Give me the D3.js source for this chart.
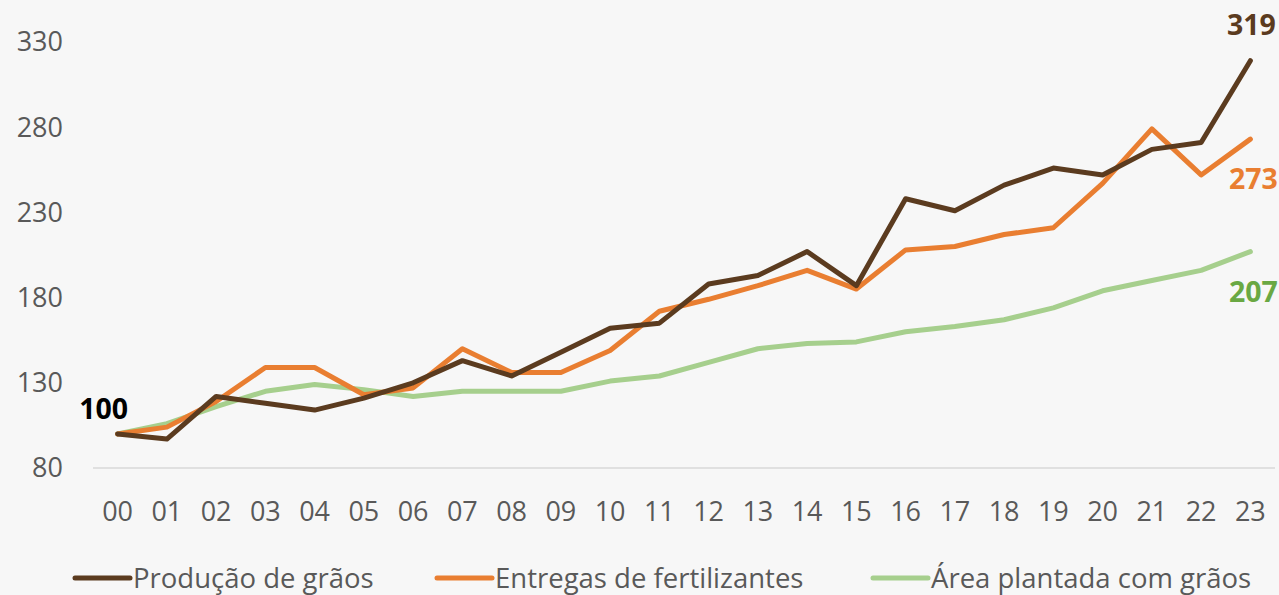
<!DOCTYPE html>
<html>
<head>
<meta charset="utf-8">
<script src="https://cdn.jsdelivr.net/npm/d3@7"></script>
<style>
  body { margin: 0; background: #f7f7f7; }
  text { font-family: "Open Sans", "Noto Sans", sans-serif; }
</style>
</head>
<body>
<div id="chart"></div>
<script>
// data (index, 2000 = 100)
var years = ["00","01","02","03","04","05","06","07","08","09","10","11",
             "12","13","14","15","16","17","18","19","20","21","22","23"];
var producao = [100, 97, 122, 118, 114, 121, 130, 143, 134, 148, 162, 165,
                188, 193, 207, 187, 238, 231, 246, 256, 252, 267, 271, 319];
var fertilizantes = [100, 104, 119, 139, 139, 123, 127, 150, 136, 136, 149, 172,
                     179, 187, 196, 185, 208, 210, 217, 221, 247, 279, 252, 273];
var area = [100, 106, 116, 125, 129, 126, 122, 125, 125, 125, 131, 134,
            142, 150, 153, 154, 160, 163, 167, 174, 184, 190, 196, 207];
var yTicks = [80, 130, 180, 230, 280, 330];
var seriesNames = ["Produção de grãos", "Entregas de fertilizantes", "Área plantada com grãos"];

var svg_w = 1279, svg_h = 595;

var series = [
  { name: seriesNames[0], values: producao, color: "#5b3b1f", labelColor: "#5b3b1f" },
  { name: seriesNames[1], values: fertilizantes, color: "#e97e31", labelColor: "#e97e31" },
  { name: seriesNames[2], values: area, color: "#a6cf8d", labelColor: "#6aa843" }
];

var svg = d3.select("#chart")
      .append("svg")
      .attr("width", svg_w)
      .attr("height", svg_h)
      .style("background", "#f7f7f7");

var xScale = d3.scaleBand()
        .domain(years)
        .range([93, 1275]);

var yScale = d3.scaleLinear()
        .domain([80, 330])
        .range([468, 42]);

function cx(i) { return xScale(years[i]) + xScale.bandwidth() / 2; }

// baseline
svg.append("line")
  .attr("x1", xScale.range()[0])
  .attr("x2", xScale.range()[1])
  .attr("y1", yScale(80))
  .attr("y2", yScale(80))
  .style("stroke", "#d9d9d9")
  .style("stroke-width", 1.5);

// y tick labels
svg.selectAll(".ytick")
  .data(yTicks)
  .enter()
  .append("text")
  .attr("class", "ytick")
  .attr("x", 63)
  .attr("y", function(d) { return yScale(d); })
  .attr("dy", "0.35em")
  .attr("text-anchor", "end")
  .style("font-size", "27px")
  .style("fill", "#595959")
  .text(function(d) { return d; });

// x tick labels
svg.selectAll(".xtick")
  .data(years)
  .enter()
  .append("text")
  .attr("class", "xtick")
  .attr("x", function(d, i) { return cx(i); })
  .attr("y", 512)
  .attr("dy", "0.35em")
  .attr("text-anchor", "middle")
  .style("font-size", "27px")
  .style("fill", "#595959")
  .text(function(d) { return d; });

var line = d3.line()
  .x(function(d, i) { return cx(i); })
  .y(function(d) { return yScale(d); });

// draw green first so it sits behind
[series[2], series[1], series[0]].forEach(function(s) {
  svg.append("path")
    .datum(s.values)
    .attr("d", line)
    .style("fill", "none")
    .style("stroke", s.color)
    .style("stroke-width", 5)
    .style("stroke-linejoin", "round")
    .style("stroke-linecap", "round");
});

// end labels
var last = years.length - 1;
svg.append("text")
  .attr("x", cx(last) + 1)
  .attr("y", yScale(producao[last]) - 36)
  .attr("dy", "0.35em")
  .attr("text-anchor", "middle")
  .style("font-size", "28.5px")
  .style("font-weight", "bold")
  .style("fill", series[0].labelColor)
  .text(producao[last]);

svg.append("text")
  .attr("x", cx(last) + 3)
  .attr("y", yScale(fertilizantes[last]) + 40)
  .attr("dy", "0.35em")
  .attr("text-anchor", "middle")
  .style("font-size", "28.5px")
  .style("font-weight", "bold")
  .style("fill", series[1].labelColor)
  .text(fertilizantes[last]);

svg.append("text")
  .attr("x", cx(last) + 3)
  .attr("y", yScale(area[last]) + 40)
  .attr("dy", "0.35em")
  .attr("text-anchor", "middle")
  .style("font-size", "28.5px")
  .style("font-weight", "bold")
  .style("fill", series[2].labelColor)
  .text(area[last]);

svg.append("text")
  .attr("x", cx(0) - 14)
  .attr("y", yScale(producao[0]) - 25)
  .attr("dy", "0.35em")
  .attr("text-anchor", "middle")
  .style("font-size", "28.5px")
  .style("font-weight", "bold")
  .style("fill", "#000000")
  .text(producao[0]);

// legend
var legendX = [75, 437, 873];
var legend = svg.selectAll(".legend")
  .data(series)
  .enter()
  .append("g")
  .attr("class", "legend")
  .attr("transform", function(d, i) { return "translate(" + legendX[i] + ",578)"; });

legend.append("line")
  .attr("x1", 0)
  .attr("x2", 55)
  .attr("y1", 0)
  .attr("y2", 0)
  .style("stroke", function(d) { return d.color; })
  .style("stroke-width", 5)
  .style("stroke-linecap", "round");

legend.append("text")
  .attr("x", 58)
  .attr("y", 0)
  .attr("dy", "0.35em")
  .style("font-size", "27.5px")
  .style("fill", "#595959")
  .text(function(d) { return d.name; });
</script>
</body>
</html>
